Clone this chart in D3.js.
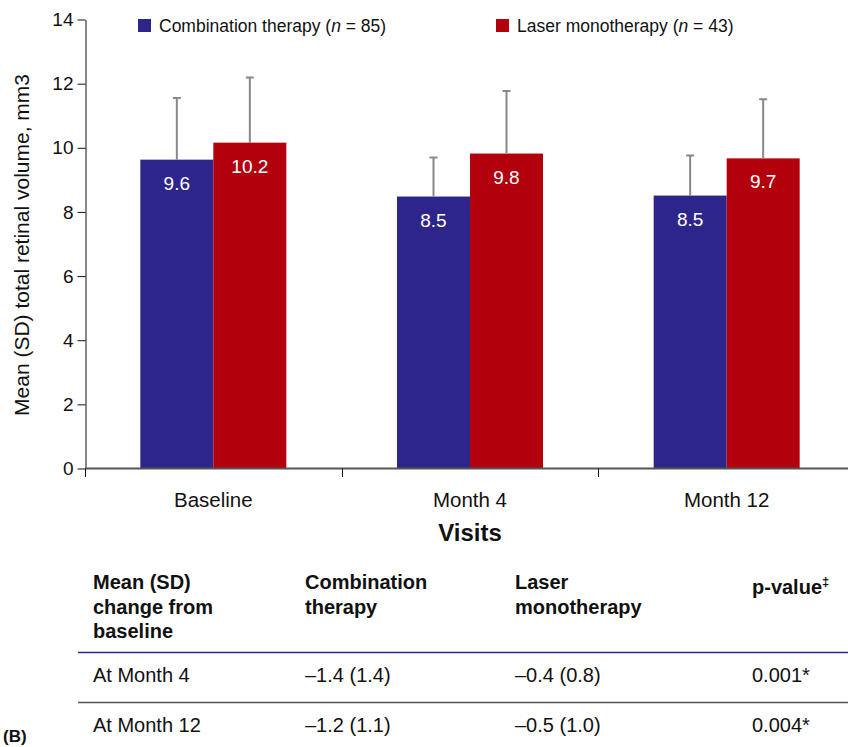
<!DOCTYPE html>
<html>
<head>
<meta charset="utf-8">
<script src="https://cdn.jsdelivr.net/npm/d3@7"></script>
<style>
    body { margin: 0; background: #fff; }
    svg { display: block; font-family: "Liberation Sans", Arial, sans-serif; }
</style>
</head>
<body>
<svg id="chart"></svg>
<script>
const visits = ["Baseline", "Month 4", "Month 12"];
const series = ["Combination therapy", "Laser monotherapy"];
const seriesN = [85, 43];
const combinationMean = [9.63, 8.48, 8.51];
const combinationSD = [1.92, 1.22, 1.25];
const laserMean = [10.16, 9.82, 9.67];
const laserSD = [2.03, 1.95, 1.84];
const yTicks = [0, 2, 4, 6, 8, 10, 12, 14];

const tableHeader = [["Mean (SD)", "change from", "baseline"], ["Combination", "therapy"], ["Laser", "monotherapy"], ["p-value"]];
const tableRows = [
    ["At Month 4", "\u20131.4 (1.4)", "\u20130.4 (0.8)", "0.001*"],
    ["At Month 12", "\u20131.2 (1.1)", "\u20130.5 (1.0)", "0.004*"]
];

const width = 848;
const height = 747;
const colors = ["#2e258b", "#b2000c"];

const svg = d3.select("#chart")
    .attr("width", width)
    .attr("height", height);

const x0 = d3.scaleBand()
    .domain(visits)
    .range([85, 855])
    .padding(0);

const x1 = d3.scaleBand()
    .domain(series)
    .range([x0.bandwidth() / 2 - 73, x0.bandwidth() / 2 + 73]);

const y = d3.scaleLinear()
    .domain([0, 14])
    .range([468.5, 19.5]);

const data = visits.map((v, i) => ({
    visit: v,
    values: [
        { key: series[0], mean: combinationMean[i], sd: combinationSD[i] },
        { key: series[1], mean: laserMean[i], sd: laserSD[i] }
    ]
}));

// bars
const groups = svg.selectAll(".visit")
    .data(data)
    .enter()
    .append("g")
    .attr("class", "visit")
    .attr("transform", d => `translate(${x0(d.visit)},0)`);

groups.selectAll(".bar")
    .data(d => d.values)
    .enter()
    .append("rect")
    .attr("class", "bar")
    .attr("x", d => x1(d.key))
    .attr("y", d => y(d.mean))
    .attr("width", x1.bandwidth())
    .attr("height", d => y(0) - y(d.mean))
    .attr("fill", (d, i) => colors[i]);

// error bars
groups.selectAll(".err")
    .data(d => d.values)
    .enter()
    .append("path")
    .attr("class", "err")
    .attr("d", d => {
        const cx = x1(d.key) + x1.bandwidth() / 2;
        const top = y(d.mean + d.sd);
        return `M${cx},${y(d.mean)}V${top}M${cx - 4},${top}H${cx + 4}`;
    })
    .attr("fill", "none")
    .attr("stroke", "#888")
    .attr("stroke-width", 2);

groups.selectAll(".val")
    .data(d => d.values)
    .enter()
    .append("text")
    .attr("class", "val")
    .attr("x", d => x1(d.key) + x1.bandwidth() / 2)
    .attr("y", d => y(d.mean) + 30)
    .attr("text-anchor", "middle")
    .attr("fill", "#fff")
    .style("font-size", "19px")
    .text(d => d.mean.toFixed(1));

// y axis
const yAxis = d3.axisLeft(y).tickValues(yTicks).tickSize(8).tickSizeOuter(0).tickPadding(4);
const gy = svg.append("g")
    .attr("transform", "translate(85.5,0)")
    .call(yAxis);
gy.selectAll("text").style("font-size", "19px").attr("fill", "#111");
gy.selectAll("line, path").attr("stroke", "#111");

// x axis
const gx = svg.append("g")
    .attr("transform", `translate(0,${y(0)})`);
gx.append("line")
    .attr("x1", 85).attr("x2", width)
    .attr("stroke", "#555").attr("stroke-width", 2);
gx.selectAll(".tick")
    .data(visits.map(v => x0(v)).concat([x0.range()[1]]))
    .enter()
    .append("line")
    .attr("x1", d => Math.round(d) + 0.5).attr("x2", d => Math.round(d) + 0.5)
    .attr("y1", 0).attr("y2", 8.5)
    .attr("stroke", "#111");
gx.selectAll(".lab")
    .data(visits)
    .enter()
    .append("text")
    .attr("x", d => x0(d) + x0.bandwidth() / 2)
    .attr("y", 38.5)
    .attr("text-anchor", "middle")
    .style("font-size", "20.5px")
    .attr("fill", "#111")
    .text(d => d);

svg.append("text")
    .attr("x", (x0.range()[0] + x0.range()[1]) / 2)
    .attr("y", 541)
    .attr("text-anchor", "middle")
    .style("font-size", "24px")
    .style("font-weight", "bold")
    .attr("fill", "#111")
    .text("Visits");

svg.append("text")
    .attr("transform", "translate(29,245) rotate(-90)")
    .attr("text-anchor", "middle")
    .style("font-size", "21px")
    .attr("fill", "#111")
    .text("Mean (SD) total retinal volume, mm3");

// legend
const legendX = [138, 496];
const legend = svg.selectAll(".legend")
    .data(series)
    .enter()
    .append("g")
    .attr("transform", (d, i) => `translate(${legendX[i]},19)`);
legend.append("rect")
    .attr("width", 13).attr("height", 13)
    .attr("fill", (d, i) => colors[i]);
const lt = legend.append("text")
    .attr("x", 21).attr("y", 13)
    .style("font-size", "17.5px")
    .attr("fill", "#111");
lt.append("tspan").text(d => d + " (");
lt.append("tspan").style("font-style", "italic").text("n");
lt.append("tspan").text((d, i) => " = " + seriesN[i] + ")");

// table
const colX = [93, 305, 515, 752];
tableHeader.forEach((lines, c) => {
    const t = svg.append("text")
        .attr("x", colX[c])
        .attr("y", c === 3 ? 594 : 589)
        .style("font-size", "20px")
        .style("font-weight", "bold")
        .attr("fill", "#111");
    lines.forEach((line, j) => {
        t.append("tspan").attr("x", colX[c]).attr("dy", j === 0 ? 0 : 24.5).text(line);
    });
    if (c === 3) {
        t.append("tspan").attr("dy", -8).style("font-size", "13px").text("\u2021");
    }
});

svg.append("line")
    .attr("x1", 78).attr("x2", width)
    .attr("y1", 652.5).attr("y2", 652.5)
    .attr("stroke", "#2e258b").attr("stroke-width", 1.5);
svg.append("line")
    .attr("x1", 78).attr("x2", width)
    .attr("y1", 702.5).attr("y2", 702.5)
    .attr("stroke", "#555").attr("stroke-width", 1.5);

tableRows.forEach((row, r) => {
    row.forEach((cell, c) => {
        svg.append("text")
            .attr("x", colX[c])
            .attr("y", 682 + r * 50)
            .style("font-size", "20px")
            .attr("fill", "#111")
            .text(cell);
    });
});

svg.append("text")
    .attr("x", 3)
    .attr("y", 742)
    .style("font-size", "17px")
    .style("font-weight", "bold")
    .attr("fill", "#111")
    .text("(B)");
</script>
</body>
</html>
